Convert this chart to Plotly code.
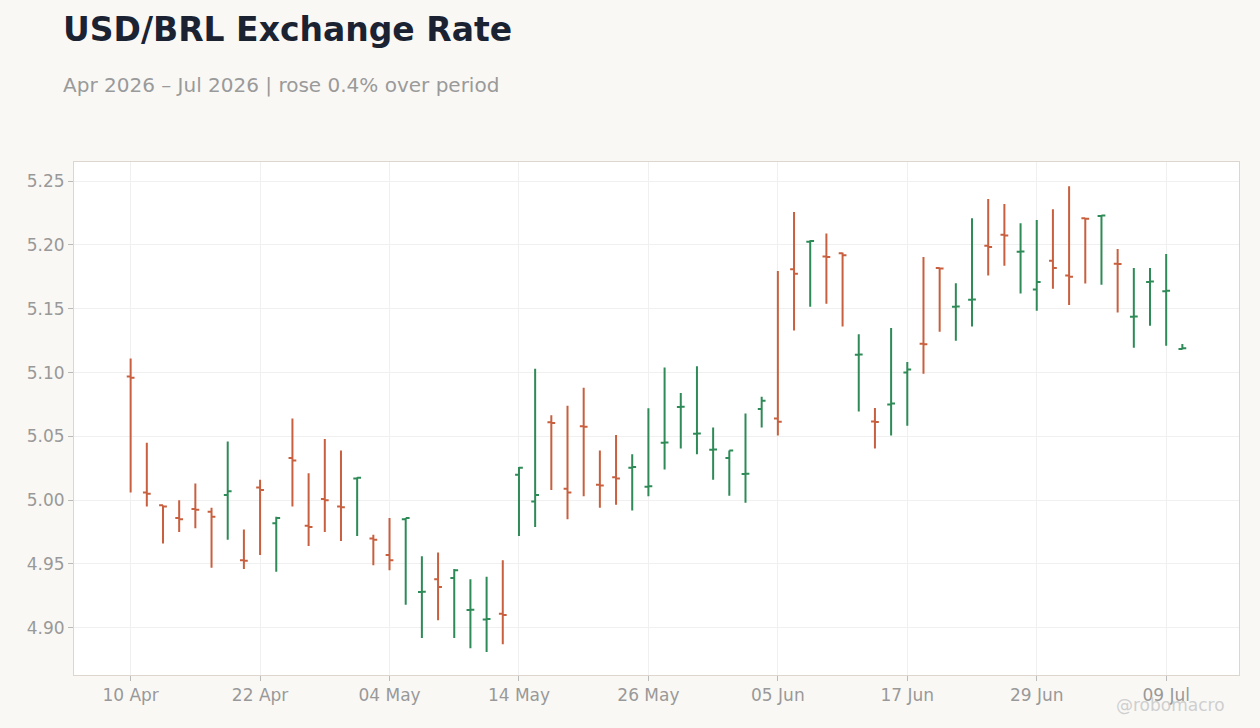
import pandas as pd
import plotly.graph_objects as go

# business days, 10 Apr 2026 -> 10 Jul 2026
dates = pd.bdate_range("2026-04-10", periods=66)

opens = [5.097, 5.006, 4.996, 4.986, 4.993, 4.991, 5.004, 4.953, 5.010, 4.982,
         5.033, 4.980, 5.001, 4.995, 5.017, 4.970, 4.957, 4.985, 4.928, 4.938,
         4.939, 4.914, 4.9065, 4.911, 5.020, 4.999, 5.061, 5.009, 5.058, 5.012,
         5.018, 5.0255, 5.0105, 5.045, 5.073, 5.052, 5.0395, 5.033, 5.0205, 5.0715,
         5.064, 5.181, 5.2025, 5.191, 5.1934, 5.114, 5.0616, 5.075, 5.100, 5.1226,
         5.182, 5.1516, 5.157, 5.1994, 5.208, 5.1947, 5.165, 5.1876, 5.176, 5.221,
         5.2226, 5.1853, 5.1438, 5.171, 5.1637, 5.1185]
highs = [5.111, 5.045, 4.996, 5.000, 5.013, 4.994, 5.046, 4.977, 5.016, 4.987,
         5.064, 5.021, 5.048, 5.039, 5.018, 4.973, 4.986, 4.986, 4.956, 4.959,
         4.946, 4.938, 4.940, 4.953, 5.026, 5.103, 5.0665, 5.074, 5.088, 5.039,
         5.051, 5.036, 5.072, 5.104, 5.084, 5.105, 5.057, 5.039, 5.068, 5.081,
         5.1796, 5.2258, 5.2036, 5.209, 5.194, 5.130, 5.0723, 5.135, 5.1083, 5.1905,
         5.182, 5.170, 5.221, 5.236, 5.232, 5.217, 5.2195, 5.228, 5.246, 5.2213,
         5.2234, 5.1968, 5.182, 5.182, 5.1929, 5.1224]
lows = [5.006, 4.995, 4.966, 4.975, 4.978, 4.947, 4.969, 4.946, 4.957, 4.944,
        4.995, 4.964, 4.975, 4.968, 4.972, 4.949, 4.945, 4.918, 4.892, 4.906,
        4.892, 4.884, 4.881, 4.887, 4.972, 4.979, 5.008, 4.985, 5.003, 4.994,
        4.9965, 4.992, 5.003, 5.024, 5.0405, 5.036, 5.016, 5.0035, 4.998, 5.057,
        5.0506, 5.133, 5.1516, 5.154, 5.136, 5.0694, 5.0404, 5.0506, 5.0584, 5.099,
        5.132, 5.125, 5.136, 5.176, 5.1837, 5.162, 5.1485, 5.1657, 5.153, 5.1697,
        5.1688, 5.147, 5.1195, 5.1367, 5.121, 5.118]
closes = [5.096, 5.005, 4.995, 4.985, 4.9925, 4.987, 5.007, 4.9525, 5.008, 4.986,
          5.031, 4.979, 5.000, 4.9945, 5.0175, 4.969, 4.953, 4.986, 4.9282, 4.932,
          4.945, 4.9142, 4.9068, 4.910, 5.0255, 5.004, 5.0605, 5.006, 5.0575, 5.0115,
          5.017, 5.026, 5.011, 5.0452, 5.0732, 5.0522, 5.0397, 5.039, 5.0207, 5.078,
          5.0615, 5.1775, 5.203, 5.1905, 5.192, 5.1142, 5.0612, 5.0757, 5.1023, 5.1222,
          5.1815, 5.1518, 5.1572, 5.1984, 5.2075, 5.1949, 5.171, 5.182, 5.175, 5.2205,
          5.223, 5.185, 5.144, 5.1713, 5.1642, 5.119]

tick_dates = dates[0::8]
tick_labels = [d.strftime("%d %b") for d in tick_dates]

fig = go.Figure()

fig.add_trace(
    go.Ohlc(
        x=dates,
        open=opens,
        high=highs,
        low=lows,
        close=closes,
        increasing=dict(line=dict(color="#2E8B57", width=2)),
        decreasing=dict(line=dict(color="#C8603F", width=2)),
        tickwidth=0.24,
        showlegend=False,
    )
)

fig.update_layout(
    width=1260,
    height=728,
    paper_bgcolor="#F9F8F5",
    plot_bgcolor="#FFFFFF",
    font=dict(family="DejaVu Sans", color="#999999", size=17),
    margin=dict(l=74, r=21, t=162, b=53),
    title=dict(
        text="<b>USD/BRL Exchange Rate</b>",
        x=0.05, xanchor="left",
        y=0.959, yanchor="middle",
        font=dict(size=33, color="#1B2333", family="DejaVu Sans"),
    ),
    xaxis_rangeslider_visible=False,
)

fig.add_annotation(
    text="Apr 2026 \u2013 Jul 2026 | rose 0.4% over period",
    xref="paper", yref="paper",
    x=-0.0112, y=1.150,
    xanchor="left", yanchor="middle",
    showarrow=False,
    font=dict(size=20, color="#9A9A9A"),
)

# watermark
fig.add_annotation(
    text="@robomacro",
    xref="paper", yref="paper",
    x=0.941, y=-0.058,
    xanchor="center", yanchor="middle",
    showarrow=False,
    font=dict(size=17, color="#CFCFCF"),
)

fig.update_xaxes(
    rangebreaks=[dict(bounds=["sat", "mon"])],
    range=["2026-04-06 12:00", "2026-07-15 12:00"],
    tickvals=tick_dates,
    ticktext=tick_labels,
    showgrid=True,
    gridcolor="#F0F0F0",
    ticks="outside",
    ticklen=5,
    tickcolor="#BBBBBB",
    showline=True,
    linecolor="#DDD6CE",
    mirror=True,
    rangeslider=dict(visible=False),
)

fig.update_yaxes(
    range=[4.863, 5.265],
    dtick=0.05,
    tickformat=".2f",
    showgrid=True,
    gridcolor="#F0F0F0",
    ticks="outside",
    ticklen=5,
    tickcolor="#BBBBBB",
    showline=True,
    linecolor="#DDD6CE",
    mirror=True,
    zeroline=False,
)

fig.write_html(
    "out.html",
    config={"displayModeBar": False},
    post_script="document.body.style.margin='0';",
)
